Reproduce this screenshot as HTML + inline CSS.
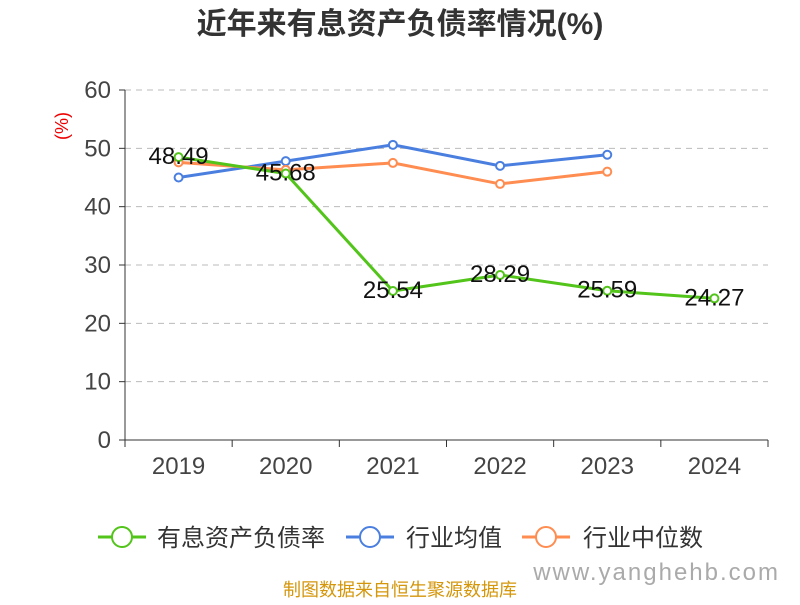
<!DOCTYPE html>
<html><head><meta charset="utf-8"><style>
body{margin:0;background:#fff;width:800px;height:600px;overflow:hidden;font-family:"Liberation Sans","Noto Sans CJK SC",sans-serif}
</style></head><body>
<svg id="c" width="800" height="600" xmlns="http://www.w3.org/2000/svg" font-family="Liberation Sans, Noto Sans CJK SC, sans-serif">
<text x="400" y="34" text-anchor="middle" font-size="30" font-weight="bold" fill="#333">近年来有息资产负债率情况(%)</text>
<text x="68" y="126" fill="#e00" font-size="18" text-anchor="middle" transform="rotate(-90 68 126)">(%)</text>
<g id="grid"></g><g id="axes"></g><g id="series"></g>
<g>
<g><line x1="98" y1="537" x2="146" y2="537" stroke="#52c41a" stroke-width="3"/><circle cx="122" cy="537" r="10" fill="#fff" stroke="#52c41a" stroke-width="2"/><text x="157" y="546" font-size="24" fill="#333">有息资产负债率</text></g>
<g><line x1="346" y1="537" x2="394" y2="537" stroke="#4a7fe0" stroke-width="3"/><circle cx="370" cy="537" r="10" fill="#fff" stroke="#4a7fe0" stroke-width="2"/><text x="406" y="546" font-size="24" fill="#333">行业均值</text></g>
<g><line x1="522" y1="537" x2="570" y2="537" stroke="#ff8c50" stroke-width="3"/><circle cx="546" cy="537" r="10" fill="#fff" stroke="#ff8c50" stroke-width="2"/><text x="583" y="546" font-size="24" fill="#333">行业中位数</text></g>
</g>
<text x="400" y="596" text-anchor="middle" font-size="18" fill="#d4960a">制图数据来自恒生聚源数据库</text>
<text x="780" y="580" text-anchor="end" font-size="24" fill="#aaa" letter-spacing="2">www.yanghehb.com</text>
</svg>
<script>
const categories=["2019","2020","2021","2022","2023","2024"];
const debtRatio=[48.49,45.68,25.54,28.29,25.59,24.27];
const industryAvg=[45.0,47.8,50.6,47.0,48.9];
const industryMedian=[47.6,46.3,47.5,43.9,46.0];
const yTicks=[0,10,20,30,40,50,60];
const NS="http://www.w3.org/2000/svg";
const x0=125,x1=768,y0=440,y1=90;
const bw=(x1-x0)/categories.length;
const xs=i=>x0+bw*(i+0.5);
const ys=v=>y0-(v/60)*(y0-y1);
function mk(p,t,a){const e=document.createElementNS(NS,t);for(const k in a)e.setAttribute(k,a[k]);p.appendChild(e);return e;}
const grid=document.getElementById('grid'),axes=document.getElementById('axes'),ser=document.getElementById('series');
yTicks.forEach(v=>{
 if(v>0){const l=mk(grid,'line',{x1:x0,x2:x1,y1:ys(v),y2:ys(v),stroke:'#bbb','stroke-dasharray':'6,5'});
 
 }
 mk(axes,'line',{x1:x0-6,x2:x0,y1:ys(v),y2:ys(v),stroke:'#333'});
 const t=mk(axes,'text',{x:x0-14,y:ys(v)+8,'text-anchor':'end','font-size':24,fill:'#444'});t.textContent=v;
 
 
});
mk(axes,'line',{x1:x0,x2:x0,y1:y1,y2:y0,stroke:'#333'});
mk(axes,'line',{x1:x0,x2:x1,y1:y0,y2:y0,stroke:'#333'});
for(let i=0;i<=categories.length;i++)mk(axes,'line',{x1:x0+bw*i,x2:x0+bw*i,y1:y0,y2:y0+7,stroke:'#333'});
categories.forEach((c,i)=>{const t=mk(axes,'text',{x:xs(i),y:474,'text-anchor':'middle','font-size':24,fill:'#444'});t.textContent=c;
 
 });
function line(data,color,name){
 const g=mk(ser,'g',{});
 
 
 mk(g,'polyline',{points:data.map((v,i)=>xs(i)+','+ys(v)).join(' '),fill:'none',stroke:color,'stroke-width':3});
 data.forEach((v,i)=>{const c=mk(g,'circle',{cx:xs(i),cy:ys(v),r:4,fill:'#fff',stroke:color,'stroke-width':2});
  
  });
 return g;
}
line(industryAvg,'#4a7fe0','industry-avg-line');
line(industryMedian,'#ff8c50','industry-median-line');
line(debtRatio,'#52c41a','debt-ratio-line');
debtRatio.forEach((v,i)=>{const t=mk(ser,'text',{x:xs(i),y:ys(v)+7,'text-anchor':'middle','font-size':24,fill:'#111'});t.textContent=v.toFixed(2);
 
 });
</script>
</body></html>
